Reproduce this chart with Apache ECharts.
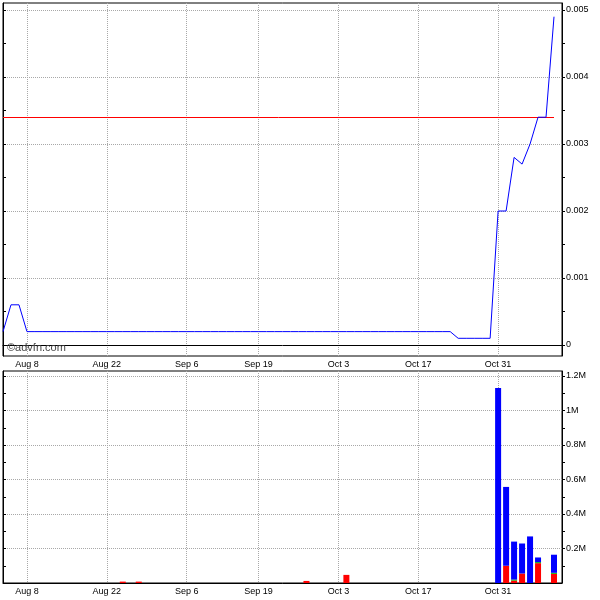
<!DOCTYPE html>
<html><head><meta charset="utf-8">
<script src="https://cdn.jsdelivr.net/npm/echarts@6/dist/echarts.min.js"></script>
<style>html,body{margin:0;padding:0;background:#fff}#c{width:600px;height:600px}</style>
</head><body><div id="c"></div>
<script>
// Trading days, Aug 3 2011 .. Nov 10 2011
const dates = [
  'Aug 3','Aug 4','Aug 5',
  'Aug 8','Aug 9','Aug 10','Aug 11','Aug 12',
  'Aug 15','Aug 16','Aug 17','Aug 18','Aug 19',
  'Aug 22','Aug 23','Aug 24','Aug 25','Aug 26',
  'Aug 29','Aug 30','Aug 31','Sep 1','Sep 2',
  'Sep 6','Sep 7','Sep 8','Sep 9',
  'Sep 12','Sep 13','Sep 14','Sep 15','Sep 16',
  'Sep 19','Sep 20','Sep 21','Sep 22','Sep 23',
  'Sep 26','Sep 27','Sep 28','Sep 29','Sep 30',
  'Oct 3','Oct 4','Oct 5','Oct 6','Oct 7',
  'Oct 10','Oct 11','Oct 12','Oct 13','Oct 14',
  'Oct 17','Oct 18','Oct 19','Oct 20','Oct 21',
  'Oct 24','Oct 25','Oct 26','Oct 27','Oct 28',
  'Oct 31','Nov 1','Nov 2','Nov 3','Nov 4',
  'Nov 7','Nov 8','Nov 9','Nov 10'
];
const tickLabels = ['Aug 8','Aug 22','Sep 6','Sep 19','Oct 3','Oct 17','Oct 31'];
const price = [
  0.0002,0.0006,0.0006,
  0.0002,0.0002,0.0002,0.0002,0.0002,
  0.0002,0.0002,0.0002,0.0002,0.0002,
  0.0002,0.0002,0.0002,0.0002,0.0002,
  0.0002,0.0002,0.0002,0.0002,0.0002,
  0.0002,0.0002,0.0002,0.0002,
  0.0002,0.0002,0.0002,0.0002,0.0002,
  0.0002,0.0002,0.0002,0.0002,0.0002,
  0.0002,0.0002,0.0002,0.0002,0.0002,
  0.0002,0.0002,0.0002,0.0002,0.0002,
  0.0002,0.0002,0.0002,0.0002,0.0002,
  0.0002,0.0002,0.0002,0.0002,0.0002,
  0.0001,0.0001,0.0001,0.0001,0.0001,
  0.002,0.002,0.0028,0.0027,0.003,
  0.0034,0.0034,0.0049,null
];
const refLevel = 0.0034;
const volRed = [['Aug 24',8000],['Aug 26',8000],['Sep 27',12000],['Oct 4',47000],
  ['Nov 1',100000],['Nov 2',14000],['Nov 3',55000],['Nov 7',115000],['Nov 9',53000]];
const volGreen = [['Nov 2',6000],['Nov 7',6000],['Nov 9',6000]];
const volBlue = [['Oct 31',1130000],['Nov 1',457000],['Nov 2',220000],['Nov 3',174000],
  ['Nov 4',270000],['Nov 7',27000],['Nov 9',105000]];
const priceLabels = [0,0.001,0.002,0.003,0.004,0.005];
const priceTicks = [0,0.0005,0.001,0.0015,0.002,0.0025,0.003,0.0035,0.004,0.0045,0.005];
const volLabels = [200000,400000,600000,800000,1000000,1200000];
const volTicks = [100000,200000,300000,400000,500000,600000,700000,800000,900000,1000000,1100000,1200000];

const FONT = 'Liberation Sans';
const isLabel = (i) => tickLabels.indexOf(dates[i]) >= 0;
const gridLine = {show:true, interval:(i)=>isLabel(i), lineStyle:{color:'#a8a8a8', width:1, type:[1,1]}};
const hGridLine = {show:true, lineStyle:{color:'#a8a8a8', width:1, type:[1,1]}};
const pMin = -0.000164, pMax = 0.0051045, vMin = 0, vMax = 1229000;

function xAxisFor(gi){
  return {
    type:'category', gridIndex:gi, data:dates, boundaryGap:false, position:'bottom',
    axisLine:{show:true, lineStyle:{color:'#000'}},
    axisTick:{show:false},
    axisLabel:{interval:(i)=>isLabel(i), color:'#000', fontSize:9, fontFamily:FONT, margin:4},
    splitLine:gridLine
  };
}
function yAxes(gi, mn, mx, labels, ticks, fmt){
  return [
    {type:'value', gridIndex:gi, position:'right', min:mn, max:mx,
     axisLine:{show:true, lineStyle:{color:'#000'}},
     axisTick:{show:true, inside:false, length:3, customValues:ticks, lineStyle:{color:'#000'}},
     axisLabel:{customValues:labels, formatter:fmt, color:'#000', fontSize:9, fontFamily:FONT, margin:4},
     splitLine:{show:false}},
    {type:'value', gridIndex:gi, position:'left', min:mn, max:mx,
     axisLine:{show:true, lineStyle:{color:'#000'}},
     axisTick:{show:true, inside:true, length:3, customValues:ticks, lineStyle:{color:'#000'}},
     axisLabel:{show:false}, splitLine:{show:false}},
    {type:'value', gridIndex:gi, position:'right', min:mn, max:mx,
     axisLine:{show:false}, axisTick:{show:false, customValues:labels},
     axisLabel:{show:false}, splitLine:hGridLine}
  ];
}

const chart = echarts.init(document.getElementById('c'), null, {renderer:'canvas'});
chart.setOption({
  animation:false,
  backgroundColor:'#fff',
  grid:[
    {left:3, top:3, width:559, height:353, show:true, borderColor:'#000', borderWidth:1, backgroundColor:'#fff'},
    {left:3, top:371, width:559, height:212, show:true, borderColor:'#000', borderWidth:1, backgroundColor:'#fff'}
  ],
  xAxis:[xAxisFor(0), xAxisFor(1)],
  yAxis:[].concat(
    yAxes(0, pMin, pMax, priceLabels, priceTicks, (v)=>String(+v.toFixed(4))),
    yAxes(1, vMin, vMax, volLabels, volTicks, (v)=>(+(v/1e6).toFixed(1))+'M')
  ),
  graphic:[{type:'text', left:7, top:342, z:100,
    style:{text:'©advfn.com', fill:'#444', font:'11px "Liberation Sans"'}}],
  series:[
    {type:'line', xAxisIndex:0, yAxisIndex:0, data:price, symbol:'none',
     lineStyle:{color:'#0000ff', width:1}, z:5,
     markLine:{silent:true, symbol:'none', label:{show:false},
       lineStyle:{color:'#ff0000', width:1, type:'solid'},
       data:[[{coord:[dates[0], refLevel]},{coord:[dates[69], refLevel]}]]}},
    {type:'bar', xAxisIndex:1, yAxisIndex:3, stack:'v', data:volRed, barWidth:6, itemStyle:{color:'#ff0000'}},
    {type:'bar', xAxisIndex:1, yAxisIndex:3, stack:'v', data:volGreen, barWidth:6, itemStyle:{color:'#00c000'}},
    {type:'bar', xAxisIndex:1, yAxisIndex:3, stack:'v', data:volBlue, barWidth:6, itemStyle:{color:'#0000ff'}}
  ]
});
</script>
</body></html>
